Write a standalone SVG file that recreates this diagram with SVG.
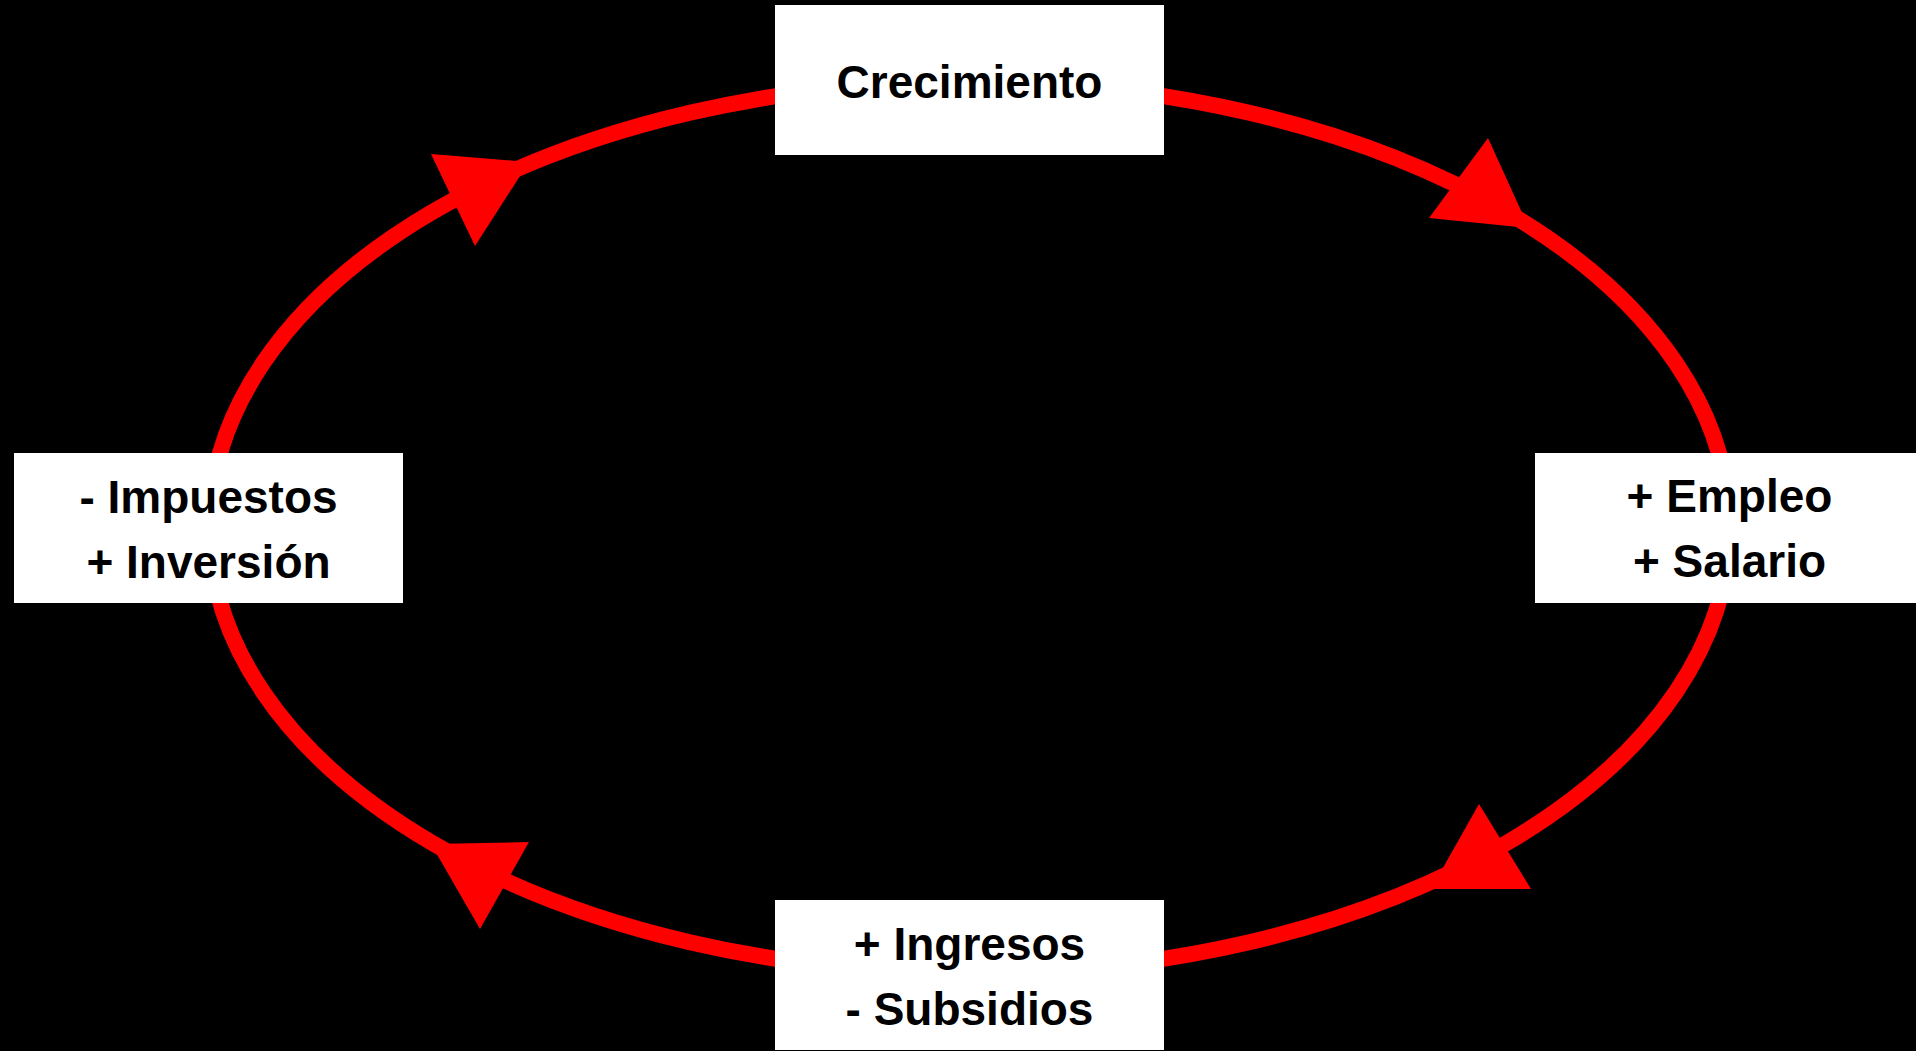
<svg xmlns="http://www.w3.org/2000/svg" width="1916" height="1051" viewBox="0 0 1916 1051">
  <style>
    .arc { fill: none; stroke: #ff0000; stroke-width: 16; }
    .head { fill: #ff0000; }
    .box { fill: #ffffff; }
    .lbl { font-family: "Liberation Sans", Arial, sans-serif; font-weight: bold; font-size: 46px; fill: #000000; text-anchor: middle; }
  </style>
  <rect x="0" y="0" width="1916" height="1051" fill="#000000"/>
  <g id="connectors">
    <path class="arc" d="M 969.5 81.5 A 760 446 0 0 1 1729.5 527.5"/>
    <path class="arc" d="M 1729.5 527.5 A 760 446 0 0 1 969.5 973.5"/>
    <path class="arc" d="M 969.5 973.5 A 760 446 0 0 1 209.5 527.5"/>
    <path class="arc" d="M 209.5 527.5 A 760 446 0 0 1 969.5 81.5"/>
    <polygon class="head" points="1488,138 1429,218 1529,228"/>
    <polygon class="head" points="1479,804 1531,889 1431,889"/>
    <polygon class="head" points="431,844 529,842 480,929"/>
    <polygon class="head" points="431,154 529,162 475,246"/>
  </g>
  <g id="node-crecimiento">
    <rect class="box" x="775" y="5" width="389" height="150"/>
    <text class="lbl" x="969.5" y="98">Crecimiento</text>
  </g>
  <g id="node-empleo">
    <rect class="box" x="1535" y="453" width="389" height="150"/>
    <text class="lbl" x="1729.5" y="512">+ Empleo</text>
    <text class="lbl" x="1729.5" y="577">+ Salario</text>
  </g>
  <g id="node-ingresos">
    <rect class="box" x="775" y="900" width="389" height="150"/>
    <text class="lbl" x="969.5" y="960">+ Ingresos</text>
    <text class="lbl" x="969.5" y="1025">- Subsidios</text>
  </g>
  <g id="node-impuestos">
    <rect class="box" x="14" y="453" width="389" height="150"/>
    <text class="lbl" x="208.5" y="513">- Impuestos</text>
    <text class="lbl" x="208.5" y="577.5">+ Inversión</text>
  </g>
</svg>
